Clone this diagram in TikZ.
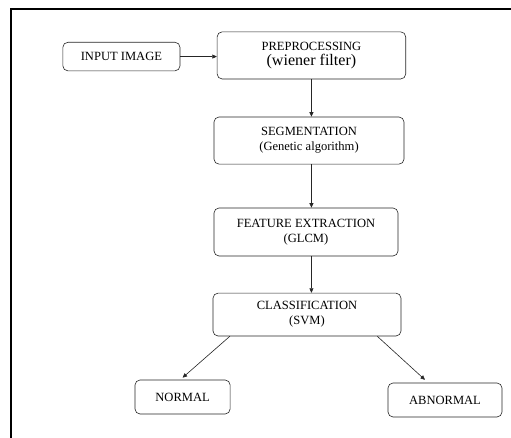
\documentclass[tikz,border=0pt]{standalone}
\usepackage{fontspec}
\setmainfont{Liberation Serif}
\usepackage{tikz}
\usetikzlibrary{arrows.meta, positioning, calc}

\begin{document}
\begin{tikzpicture}[x=1cm, y=1cm,
  stagebox/.style={draw=black!85, line width=0.6pt, rounded corners=5pt,
    align=center, inner sep=0pt, font=\fontsize{12.5}{15}\selectfont},
  flow/.style={draw=black!85, line width=0.6pt, -{Triangle[length=4.5pt, width=4pt]}}]
\useasboundingbox (0,0) rectangle (17.885,15.33);
\draw[black, line width=1.3pt] (0.385,0) -- (0.385,15.015) -- (17.885,15.015);
\node[stagebox, minimum width=4.1cm, minimum height=1.0cm] (inimg)
  at (4.25,13.35) {INPUT IMAGE};
\node[stagebox, minimum width=6.6cm, minimum height=1.65cm] (prep)
  at (10.90,13.39) {PREPROCESSING\\{\fontsize{16}{17}\selectfont (wiener filter)}};
\node[stagebox, minimum width=6.65cm, minimum height=1.65cm] (segm)
  at (10.815,10.41) {SEGMENTATION\\(Genetic algorithm)};
\node[stagebox, minimum width=6.44cm, minimum height=1.68cm] (feat)
  at (10.71,7.21) {FEATURE EXTRACTION\\(GLCM)};
\node[stagebox, minimum width=6.58cm, minimum height=1.5cm] (clsf)
  at (10.745,4.32) {CLASSIFICATION\\(SVM)};
\node[stagebox, minimum width=3.33cm, minimum height=1.19cm] (normal)
  at (6.39,1.435) {NORMAL};
\node[stagebox, minimum width=3.99cm, minimum height=1.19cm] (abnormal)
  at (15.575,1.33) {ABNORMAL};
\draw[flow] (inimg.east) -- (inimg.east -| prep.west);
\draw[flow] (prep.south) -- (prep.south |- segm.north);
\draw[flow] (segm.south -| prep.south) -- (feat.north -| prep.south);
\draw[flow] (feat.south -| prep.south) -- (clsf.north -| prep.south);
\draw[flow] ([xshift=0.6cm]clsf.south west) -- ([yshift=0.07cm]normal.north);
\draw[flow] ([xshift=-0.84cm]clsf.south east) -- ([xshift=-0.7cm, yshift=0.1cm]abnormal.north);
\end{tikzpicture}
\end{document}
